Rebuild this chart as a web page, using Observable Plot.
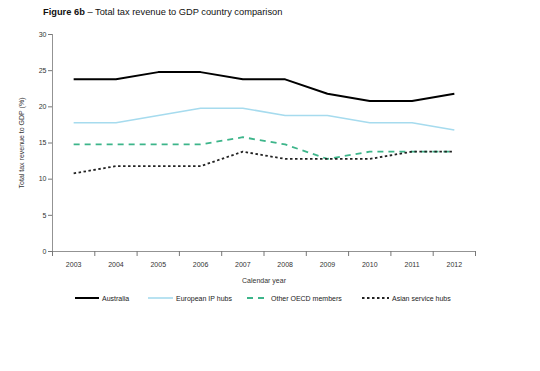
<!DOCTYPE html>
<html><head>
<meta charset="utf-8">
<script src="https://cdn.jsdelivr.net/npm/d3@7"></script>
<script src="https://cdn.jsdelivr.net/npm/@observablehq/plot@0.6"></script>
<style>
body{margin:0;background:#fff;font-family:"Liberation Sans",Arial,sans-serif;width:540px;height:371px;position:relative;overflow:hidden}
#title{position:absolute;left:43px;top:7px;font-size:9.3px;color:#111;white-space:nowrap}
#chart{position:absolute;left:0;top:22px}
.leg{position:absolute;top:293px;font-size:7px;color:#222;display:flex;align-items:center;white-space:nowrap}
.leg svg{margin-right:3px}
</style>
</head><body>
<div id="title"><b>Figure 6b</b> – Total tax revenue to GDP country comparison</div>
<div id="chart"></div>
<div id="legend"></div>
<script>
const years = [2003, 2004, 2005, 2006, 2007, 2008, 2009, 2010, 2011, 2012];
const australia = [23.8, 23.8, 24.8, 24.8, 23.8, 23.8, 21.8, 20.8, 20.8, 21.8];
const europeanIP = [17.8, 17.8, 18.8, 19.8, 19.8, 18.8, 18.8, 17.8, 17.8, 16.8];
const otherOECD = [14.8, 14.8, 14.8, 14.8, 15.8, 14.8, 12.8, 13.8, 13.8, 13.8];
const asianHubs = [10.8, 11.8, 11.8, 11.8, 13.8, 12.8, 12.8, 12.8, 13.8, 13.8];
const yTicks = [0, 5, 10, 15, 20, 25, 30];

const series = [
  {name: "Australia", values: australia, color: "#000000", dash: null, width: 2, legX: 75, swW: 24},
  {name: "European IP hubs", values: europeanIP, color: "#a6dbee", dash: null, width: 1.6, legX: 148, swW: 25},
  {name: "Other OECD members", values: otherOECD, color: "#3db58a", dash: "6,5", width: 1.8, legX: 247, swW: 21},
  {name: "Asian service hubs", values: asianHubs, color: "#222222", dash: "2.5,2.5", width: 1.8, legX: 362, swW: 27}
];

const boundaries = years.map(y => y - 0.5).concat([years[years.length - 1] + 0.5]);

const marks = [
  Plot.ruleY([0], {stroke: "#777", strokeWidth: 0.8}),
  Plot.frame({anchor: "left", stroke: "#777", strokeWidth: 0.8}),
  Plot.axisY({ticks: yTicks, tickSize: 4, tickPadding: 2, stroke: "#777", fill: "#333", fontSize: 7,
    label: "Total tax revenue to GDP (%)", labelAnchor: "center", labelArrow: "none", labelOffset: 33}),
  Plot.axisX({ticks: boundaries, tickSize: 5, tickFormat: () => "", stroke: "#777", label: null}),
  Plot.axisX({ticks: years, tickSize: 0, tickPadding: 11, tickFormat: d => String(d), fill: "#333", fontSize: 7,
    label: "Calendar year", labelAnchor: "center", labelArrow: "none", labelOffset: 31})
];
for (const s of series) {
  const data = years.map((y, i) => ({year: y, value: s.values[i]}));
  marks.push(Plot.line(data, {x: "year", y: "value", stroke: s.color, strokeWidth: s.width,
    strokeDasharray: s.dash, strokeLinejoin: "miter", strokeLinecap: "butt"}));
}

const chart = Plot.plot({
  width: 540,
  height: 270,
  marginLeft: 52,
  marginRight: 65,
  marginTop: 12,
  marginBottom: 41,
  style: {fontFamily: "'Liberation Sans', Arial, sans-serif", fontSize: "7px", color: "#333", background: "#fff"},
  x: {domain: [years[0] - 0.5, years[years.length - 1] + 0.5]},
  y: {domain: [0, 30]},
  marks
});
document.getElementById("chart").appendChild(chart);

const legend = document.getElementById("legend");
for (const s of series) {
  const div = document.createElement("div");
  div.className = "leg";
  div.style.left = s.legX + "px";
  const ns = "http://www.w3.org/2000/svg";
  const svg = document.createElementNS(ns, "svg");
  svg.setAttribute("width", s.swW);
  svg.setAttribute("height", 10);
  const line = document.createElementNS(ns, "line");
  line.setAttribute("x1", 0); line.setAttribute("x2", s.swW);
  line.setAttribute("y1", 5); line.setAttribute("y2", 5);
  line.setAttribute("stroke", s.color);
  line.setAttribute("stroke-width", s.width);
  if (s.dash) line.setAttribute("stroke-dasharray", s.dash);
  svg.appendChild(line);
  div.appendChild(svg);
  const span = document.createElement("span");
  span.textContent = s.name;
  div.appendChild(span);
  legend.appendChild(div);
}
</script>
</body></html>
